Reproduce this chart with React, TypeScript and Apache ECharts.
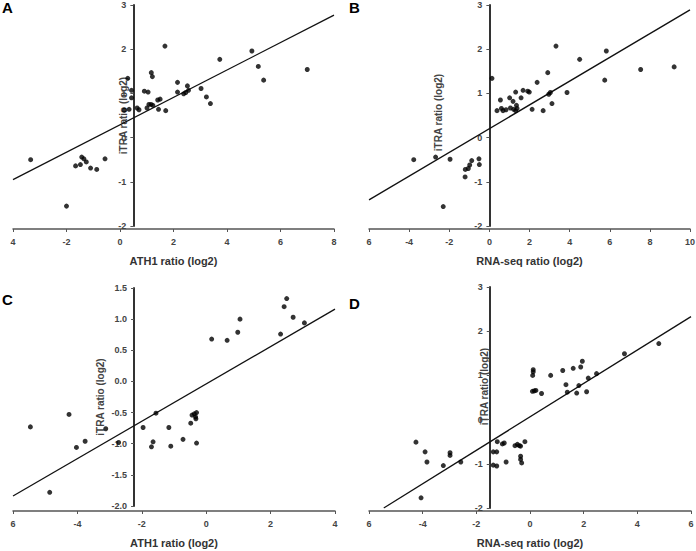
import React, { useEffect, useRef } from "react";
import * as echarts from "echarts";

// Panel A: ATH1 ratio vs iTRA ratio (log2)
const aPoints: number[][] = [
  [-3.34, -0.5], [-2.0, -1.55], [-1.66, -0.64], [-1.48, -0.61], [-1.43, -0.44], [-1.35, -0.48],
  [-1.26, -0.55], [-1.1, -0.69], [-0.87, -0.72], [-0.56, -0.48],
  [0.16, 0.62], [0.29, 1.34], [0.34, 0.64], [0.43, 1.07], [0.43, 0.9], [0.64, 0.67], [0.71, 0.63],
  [0.91, 1.05], [1.05, 1.03], [1.01, 0.67], [1.08, 0.75], [1.16, 0.75], [1.17, 1.47], [1.21, 1.38],
  [1.23, 0.73], [1.41, 0.85], [1.5, 0.87], [1.44, 0.64], [1.68, 2.07], [1.71, 0.61], [2.15, 1.25],
  [2.15, 1.03], [2.38, 0.99], [2.46, 1.02], [2.52, 1.17], [2.56, 1.07], [3.03, 1.11], [3.23, 0.92],
  [3.38, 0.77], [3.73, 1.77], [4.93, 1.96], [5.17, 1.61], [5.37, 1.3], [7.0, 1.54],
];
const aFit: number[][] = [[-4, -0.95], [8, 2.77]];

// Panel B: RNA-seq ratio vs iTRA ratio (log2)
const bPoints: number[][] = [
  [-3.77, -0.5], [-2.68, -0.44], [-1.96, -0.49], [-2.3, -1.56], [-1.21, -0.89], [-1.2, -0.72],
  [-1.05, -0.7], [-0.98, -0.62], [-0.88, -0.52], [-0.52, -0.48], [-0.5, -0.61],
  [0.13, 1.34], [0.38, 0.61], [0.6, 0.66], [0.68, 0.61], [0.83, 0.63], [0.55, 0.85], [1.05, 0.67],
  [1.21, 0.64], [1.31, 0.61], [1.38, 0.66], [1.01, 0.9], [1.18, 0.82], [1.35, 0.73], [1.31, 1.03],
  [1.58, 0.9], [1.68, 1.07], [1.91, 1.05], [1.99, 1.03], [2.13, 0.64], [2.38, 1.25], [2.68, 0.61],
  [2.91, 1.47], [2.96, 0.98], [3.04, 1.02], [3.12, 0.77], [3.32, 2.07], [3.87, 1.02], [4.5, 1.77],
  [5.75, 1.3], [5.83, 1.96], [7.54, 1.54], [9.21, 1.6],
];
const bFit: number[][] = [[-6, -1.41], [10, 2.89]];

// Panel C: ATH1 ratio vs iTRA ratio (log2)
const cPoints: number[][] = [
  [-5.46, -0.73], [-4.86, -1.78], [-4.26, -0.53], [-4.03, -1.06], [-3.76, -0.96], [-3.12, -0.76],
  [-2.72, -0.98], [-1.96, -0.74], [-1.56, -0.51], [-1.65, -0.97], [-1.7, -1.05], [-1.16, -0.74],
  [-1.1, -1.04], [-0.72, -0.93], [-0.48, -0.67], [-0.44, -0.54], [-0.37, -0.52], [-0.3, -0.5],
  [-0.33, -0.57], [-0.32, -0.6], [-0.3, -0.99], [0.17, 0.68], [0.65, 0.66], [0.98, 0.79],
  [1.05, 1.0], [2.31, 0.76], [2.42, 1.2], [2.5, 1.33], [2.7, 1.03], [3.05, 0.94],
];
const cFit: number[][] = [[-6, -1.84], [4, 1.16]];

// Panel D: RNA-seq ratio vs iTRA ratio (log2)
const dPoints: number[][] = [
  [-4.25, -0.51], [-4.06, -1.77], [-3.91, -0.73], [-3.84, -0.96], [-3.23, -1.04], [-2.98, -0.75],
  [-2.98, -0.81], [-2.58, -0.96], [-1.37, -0.73], [-1.24, -0.73], [-1.37, -1.03], [-1.24, -1.05],
  [-1.22, -0.5], [-1.03, -0.55], [-0.96, -0.53], [-0.89, -0.96], [-0.56, -0.59], [-0.47, -0.56],
  [-0.4, -0.59], [-0.35, -0.6], [-0.35, -0.83], [-0.35, -0.9], [-0.31, -0.98], [-0.19, -0.5],
  [0.12, 1.13], [0.12, 1.08], [0.1, 1.0], [0.09, 0.64], [0.16, 0.65], [0.22, 0.66], [0.43, 0.59],
  [0.77, 1.0], [1.22, 1.11], [1.34, 0.79], [1.39, 0.62], [1.61, 1.16], [1.74, 0.6], [1.82, 0.77],
  [1.89, 1.19], [1.95, 1.32], [2.11, 0.63], [2.17, 0.94], [2.48, 1.04], [3.52, 1.49], [4.8, 1.72],
];
const dFit: number[][] = [[-5.45, -2.0], [6, 2.33]];

const panelLetters = ["A", "B", "C", "D"];
const xTitles = ["ATH1 ratio (log2)", "RNA-seq ratio (log2)", "ATH1 ratio (log2)", "RNA-seq ratio (log2)"];
const yTitle = "iTRA ratio (log2)";
const xRanges = [[-4, 8], [-6, 10], [-6, 4], [-6, 6]];
const yRanges = [[-2, 3], [-2, 3], [-2, 1.5], [-2, 3]];
const yIntervals = [1, 1, 0.5, 1];
const yCross = [0.5, 0, -2.24, -1.5];
const yDecimals = [0, 0, 1, 0];

const FONT = '"Liberation Sans", Arial, Helvetica, sans-serif';

const grids = [
  { left: 13, top: 5, width: 321, height: 221, xOff: 3, yNameGap: 5, yNamePad: [0, 0, 0, 0], letter: [2, 0] },
  { left: 369, top: 5, width: 321, height: 221, xOff: 3, yNameGap: 46, yNamePad: [0, 0, 0, 6], letter: [349, 0] },
  { left: 13, top: 288, width: 322, height: 218, xOff: 5, yNameGap: 29, yNamePad: [0, 0, 0, 0], letter: [2, 292] },
  { left: 369, top: 287, width: 322, height: 221, xOff: 3, yNameGap: 0, yNamePad: [0, 0, 0, 22], letter: [349, 296] },
];

const allPoints = [aPoints, bPoints, cPoints, dPoints];
const allFits = [aFit, bFit, cFit, dFit];

export default function App() {
  const ref = useRef<HTMLDivElement>(null);
  useEffect(() => {
    if (!ref.current) return;
    const chart = echarts.init(ref.current, undefined, { renderer: "svg" });
    const grid: any[] = [];
    const xAxis: any[] = [];
    const yAxis: any[] = [];
    const series: any[] = [];
    const graphic: any[] = [];
    grids.forEach((g, i) => {
      const [xMin, xMax] = xRanges[i];
      const [yMin, yMax] = yRanges[i];
      grid.push({ left: g.left, top: g.top, width: g.width, height: g.height, containLabel: false, outerBoundsMode: "none" });
      xAxis.push({
        type: "value",
        gridIndex: i,
        min: xMin,
        max: xMax,
        interval: 2,
        offset: g.xOff,
        splitLine: { show: false },
        axisLine: { onZero: false, lineStyle: { color: "#555", width: 1.5 } },
        axisTick: { show: true, length: 3, lineStyle: { color: "#555" } },
        axisLabel: {
          margin: 8,
          color: "#444",
          fontSize: 9,
          fontWeight: "bold",
          fontFamily: FONT,
          formatter: (v: number) => (v === xMin ? String(Math.abs(v)) : String(v)),
        },
        name: xTitles[i],
        nameLocation: "middle",
        nameGap: 26,
        nameMoveOverlap: false,
        nameTextStyle: { color: "#333", fontSize: 11, fontWeight: "bold", fontFamily: FONT },
      });
      const offset = -((yCross[i] - xMin) / (xMax - xMin)) * g.width;
      yAxis.push({
        type: "value",
        gridIndex: i,
        min: yMin,
        max: yMax,
        interval: yIntervals[i],
        offset,
        splitLine: { show: false },
        axisLine: { onZero: false, lineStyle: { color: "#333", width: 2 } },
        axisTick: { show: true, length: 3, lineStyle: { color: "#555" } },
        axisLabel: {
          margin: 7,
          color: "#444",
          fontSize: 9,
          fontWeight: "bold",
          fontFamily: FONT,
          formatter: (v: number) => v.toFixed(yDecimals[i]),
        },
        name: yTitle,
        nameLocation: "middle",
        nameGap: g.yNameGap,
        nameMoveOverlap: false,
        nameTextStyle: { color: "#444", fontSize: 10, fontWeight: "bold", fontFamily: FONT, padding: g.yNamePad },
      });
      series.push({
        type: "scatter",
        xAxisIndex: i,
        yAxisIndex: i,
        data: allPoints[i],
        symbolSize: 5,
        itemStyle: { color: "#000" },
        z: 3,
      });
      series.push({
        type: "line",
        xAxisIndex: i,
        yAxisIndex: i,
        data: allFits[i],
        symbol: "none",
        lineStyle: { color: "#111", width: 1.3 },
        z: 2,
      });
      graphic.push({
        type: "text",
        left: g.letter[0],
        top: g.letter[1],
        style: { text: panelLetters[i], font: `bold 15px ${FONT}`, fill: "#000" },
      });
    });
    chart.setOption({
      animation: false,
      backgroundColor: "#fff",
      grid,
      xAxis,
      yAxis,
      series,
      graphic,
    });
    return () => chart.dispose();
  }, []);
  return (
    <div
      ref={ref}
      style={{ position: "fixed", left: 0, top: 0, width: 696, height: 551, background: "#fff" }}
    />
  );
}
